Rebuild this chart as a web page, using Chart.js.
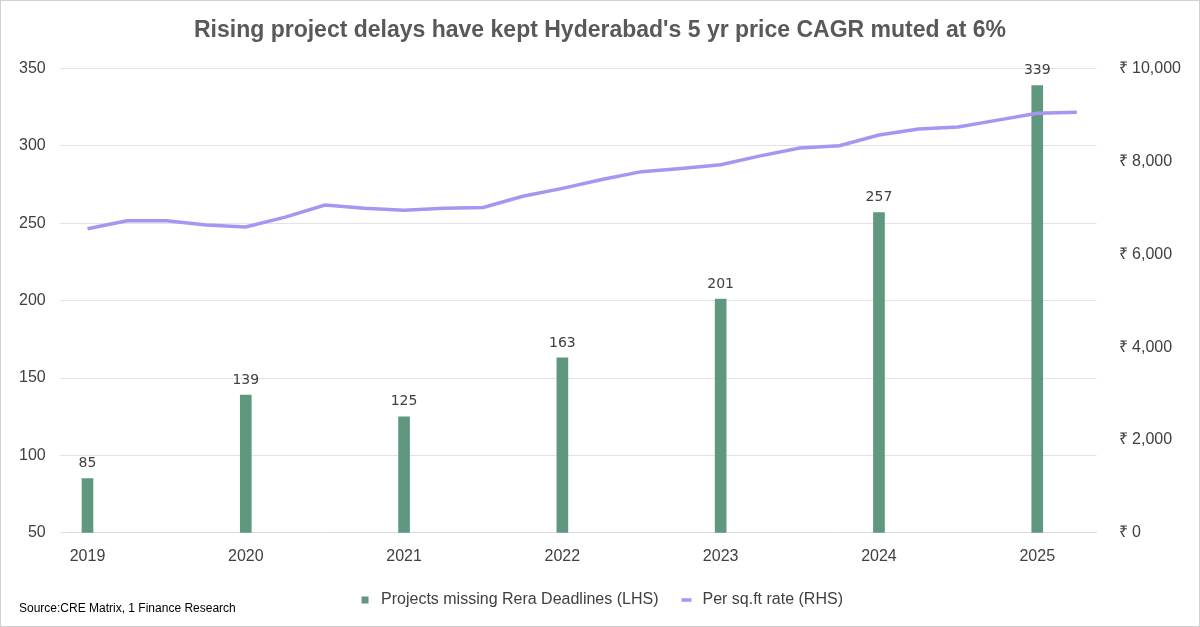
<!DOCTYPE html>
<html><head><meta charset="utf-8">
<script src="https://cdn.jsdelivr.net/npm/chart.js@4"></script>
<style>
html,body{margin:0;padding:0;background:#fff;}
#wrap{position:relative;width:1198px;height:625px;border:1px solid #d0d0d0;}
#src{position:absolute;left:18px;top:600px;font:12px "Liberation Sans",Arial,sans-serif;color:#000;}
</style></head><body>
<div id="wrap"><canvas id="c" width="1198" height="625"></canvas><div id="src">Source:CRE Matrix, 1 Finance Research</div></div>
<script>
const quarters = ['2019','','','','2020','','','','2021','','','','2022','','','','2023','','','','2024','','','','2025',''];
const projectsMissing = [85,null,null,null,139,null,null,null,125,null,null,null,163,null,null,null,201,null,null,null,257,null,null,null,339,null];
const perSqftRate = [6550,6720,6720,6630,6590,6800,7060,6990,6950,6990,7010,7250,7420,7610,7780,7850,7930,8120,8290,8340,8570,8700,8740,8890,9040,9060];
const leftTicks = [50,100,150,200,250,300,350];

const labelPlugin = {id:'lbl',afterDatasetsDraw(chart){
  const ctx=chart.ctx; const meta=chart.getDatasetMeta(0);
  ctx.save(); ctx.font='14px "DejaVu Sans", sans-serif'; ctx.fillStyle='#404040'; ctx.textAlign='center'; ctx.textBaseline='bottom';
  meta.data.forEach((b,i)=>{ if(projectsMissing[i]!=null) ctx.fillText(projectsMissing[i], b.x, b.y-8); });
  ctx.restore();
}};
Chart.defaults.font.family='"Liberation Sans", Arial, sans-serif';
new Chart(document.getElementById('c'),{
  data:{labels:quarters,datasets:[
    {type:'bar',label:'Projects missing Rera Deadlines (LHS)',data:projectsMissing,backgroundColor:'#5f987f',barThickness:11,yAxisID:'y',order:2,pointStyle:'rect'},
    {type:'line',label:'Per sq.ft rate (RHS)',data:perSqftRate,borderColor:'#a895f2',backgroundColor:'#a895f2',borderWidth:3.5,pointRadius:0,tension:0,yAxisID:'y1',order:1,pointStyle:'line'}
  ]},
  options:{responsive:false,animation:false,
    layout:{padding:{left:4,right:4,top:4,bottom:8}},
    plugins:{
      title:{display:true,text:"Rising project delays have kept Hyderabad's 5 yr price CAGR muted at 6%",font:{size:23,weight:'bold'},color:'#595959',padding:{top:12,bottom:24}},
      legend:{position:'bottom',labels:{sort:(a,b)=>a.datasetIndex-b.datasetIndex,usePointStyle:true,font:{size:16},color:'#404040',boxWidth:38,boxHeight:7,padding:20,
        generateLabels(chart){const l=Chart.defaults.plugins.legend.labels.generateLabels(chart); l.forEach(it=>{it.lineWidth=it.datasetIndex===1?3.5:0; it.strokeStyle='#a895f2';}); return l;}}},
      tooltip:{enabled:false}
    },
    scales:{
      x:{offset:true,grid:{display:false},border:{color:'#d9d9d9'},ticks:{autoSkip:false,maxRotation:0,color:'#404040',font:{size:16},padding:6}},
      y:{position:'left',min:50,max:350,afterBuildTicks(a){a.ticks=leftTicks.map(v=>({value:v}));},grid:{color:'#e3e3e3'},border:{display:false},ticks:{color:'#404040',font:{size:16},padding:14}},
      y1:{position:'right',min:0,max:10000,grid:{display:false},border:{display:false},ticks:{stepSize:2000,color:'#404040',font:{size:16},padding:14,callback:v=>'₹ '+v.toLocaleString('en-US')}}
    }
  },
  plugins:[labelPlugin]
});
</script></body></html>
